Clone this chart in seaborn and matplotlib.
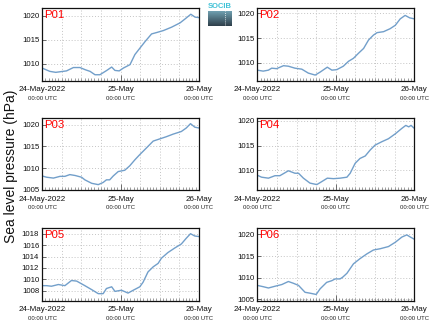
import numpy as np
import pandas as pd
import matplotlib
matplotlib.use("Agg")
import matplotlib.pyplot as plt
import matplotlib.dates as mdates
import seaborn as sns

# ---------------- data (hours since 24-May-2022 00:00 UTC, hPa) ----------------
p01_hours = [0, 2.4, 4.2, 7.5, 9.6, 11.6, 13.2, 14.7, 16.2, 17.7, 19.8, 21.3, 22.3, 23.6, 24.9,
             26.9, 28.4, 30, 31.5, 33.5, 35.1, 37.1, 39.6, 42.2, 43.7, 45.5, 46.8, 48]
p01_hpa = [1009.1, 1008.4, 1008.2, 1008.5, 1009.2, 1009.2, 1008.75, 1008.4, 1007.7, 1007.7, 1008.6,
           1009.3, 1008.6, 1008.5, 1009.1, 1009.8, 1011.9, 1013.3, 1014.6, 1016.2, 1016.5, 1016.9,
           1017.6, 1018.5, 1019.3, 1020.3, 1019.7, 1019.6]

p02_hours = [0, 1.8, 3.4, 4.4, 5.9, 8, 9.5, 11.5, 13.6, 15.6, 17.7, 19.2, 21.4, 22.8, 24.3, 26.3,
             27.9, 29.4, 30.9, 32.5, 34, 35.5, 36.6, 38.6, 40.6, 42.2, 43.7, 45.2, 46.6, 48]
p02_hpa = [1008.5, 1008.3, 1008.5, 1008.9, 1008.8, 1009.4, 1009.3, 1008.9, 1008.7, 1007.9, 1007.5,
           1008.1, 1009.1, 1008.5, 1008.6, 1009.3, 1010.3, 1010.9, 1011.9, 1012.9, 1014.6, 1015.6,
           1016.1, 1016.3, 1016.9, 1017.6, 1018.9, 1019.6, 1019.1, 1018.9]

p03_hours = [0, 1.4, 3.5, 5.5, 7, 8.5, 10.1, 12.1, 13.1, 15.2, 17.2, 18.7, 19.7, 20.7, 21.8, 23.3,
             25.3, 26.8, 28.4, 29.9, 31.9, 34, 36, 38, 40.1, 42.6, 44.1, 45.4, 46.7, 48]
p03_hpa = [1008.2, 1007.9, 1007.7, 1008.1, 1008.1, 1008.5, 1008.3, 1007.9, 1007.3, 1006.5, 1006.2,
           1006.7, 1007.3, 1007.3, 1008.2, 1009.2, 1009.5, 1010.5, 1011.9, 1013.1, 1014.6, 1016.2,
           1016.7, 1017.2, 1017.8, 1018.4, 1019.2, 1020.2, 1019.4, 1019.2]

p04_hours = [0, 1.3, 3.4, 5.4, 6.9, 9.5, 11.5, 12.6, 14.1, 16.1, 18.2, 19.7, 21.4, 23.3, 25.3, 27.4,
             28.4, 29.9, 31.4, 33, 34.5, 36, 38.1, 40.1, 42.2, 44.2, 45.4, 46.3, 47, 48]
p04_hpa = [1009.0, 1008.6, 1008.4, 1008.9, 1008.9, 1009.9, 1009.4, 1009.4, 1008.4, 1007.4, 1007.1,
           1007.7, 1008.4, 1008.3, 1008.4, 1008.6, 1009.4, 1011.4, 1012.4, 1012.9, 1014.1, 1015.1,
           1015.8, 1016.4, 1017.4, 1018.5, 1019.1, 1018.8, 1019.1, 1018.5]

p05_hours = [0, 1.4, 2.9, 5, 7, 9, 10.6, 13.1, 15.2, 17.2, 18.7, 19.7, 21.3, 22.3, 24.3, 26.3, 27.9,
             29.9, 30.9, 32.4, 34, 35.5, 36.5, 38.5, 40.6, 42.6, 44.1, 45.4, 46.7, 48]
p05_hpa = [1008.9, 1008.9, 1008.8, 1009.1, 1008.9, 1009.8, 1009.7, 1008.9, 1008.2, 1007.5, 1007.5,
           1008.4, 1008.7, 1007.9, 1008.1, 1007.6, 1008.1, 1008.7, 1009.5, 1011.3, 1012.2, 1012.8,
           1013.7, 1014.7, 1015.5, 1016.2, 1017.2, 1018.0, 1017.6, 1017.5]

p06_hours = [0, 1.8, 3.4, 5.4, 7.5, 9.5, 11, 12.6, 14.6, 16.1, 18, 19.2, 21.2, 22.8, 23.8, 25.3, 26.1,
             27.4, 29.4, 31.4, 33.5, 35.5, 37.6, 40.1, 42.2, 44.2, 45.7, 46.8, 48]
p06_hpa = [1008.2, 1007.9, 1007.6, 1008.0, 1008.4, 1009.1, 1008.7, 1008.2, 1006.6, 1006.4, 1006.1,
           1007.4, 1008.9, 1009.3, 1009.7, 1009.7, 1010.1, 1011.0, 1013.2, 1014.4, 1015.5, 1016.4,
           1016.7, 1017.2, 1018.2, 1019.4, 1019.9, 1019.4, 1018.9]

station_names = ["P01", "P02", "P03", "P04", "P05", "P06"]
station_hours = [p01_hours, p02_hours, p03_hours, p04_hours, p05_hours, p06_hours]
station_hpa = [p01_hpa, p02_hpa, p03_hpa, p04_hpa, p05_hpa, p06_hpa]
y_limits = [(1006.5, 1021.6), (1006.4, 1021.1), (1004.85, 1021.5),
            (1005.9, 1020.6), (1006.3, 1019.0), (1004.7, 1021.5)]
y_ticks = [[1010, 1015, 1020], [1010, 1015, 1020], [1005, 1010, 1015, 1020],
           [1010, 1015, 1020], [1008, 1010, 1012, 1014, 1016, 1018], [1005, 1010, 1015, 1020]]
x_tick_labels = ["24-May-2022", "25-May", "26-May"]
x_tick_sub = "00:00 UTC"
y_label = "Sea level pressure (hPa)"
start_time = pd.Timestamp("2022-05-24 00:00")

# ---------------- figure ----------------
sns.set_theme(style="ticks")
plt.rcParams["font.family"] = ["Liberation Sans", "DejaVu Sans"]

W, H = 434, 327
fig = plt.figure(figsize=(W / 100, H / 100), dpi=100)

col_left = [42, 257.3]
col_width = 157
row_top = [8, 118, 228]
row_height = 72.5

line_color = "#729fca"
tick_pos = [start_time + pd.Timedelta(hours=h) for h in (0, 24, 48)]

for i, name in enumerate(station_names):
    r, c = divmod(i, 2)
    ax = fig.add_axes([col_left[c] / W, 1 - (row_top[r] + row_height) / H,
                       col_width / W, row_height / H])
    df = pd.DataFrame({
        "time": [start_time + pd.Timedelta(hours=h) for h in station_hours[i]],
        "hpa": station_hpa[i],
    })
    sns.lineplot(data=df, x="time", y="hpa", ax=ax, color=line_color, linewidth=1.0)
    ax.set_xlim(tick_pos[0], tick_pos[-1])
    ax.set_ylim(*y_limits[i])
    ax.set_xlabel("")
    ax.set_ylabel("")

    ax.set_xticks(tick_pos)
    ax.set_xticklabels(x_tick_labels, fontsize=5.8, color="#222222")
    ax.xaxis.set_minor_locator(mdates.HourLocator(interval=1))
    ax.set_yticks(y_ticks[i])
    ax.set_yticklabels([str(v) for v in y_ticks[i]], fontsize=5.6, color="#222222")

    ax.tick_params(axis="x", which="major", direction="in", length=4, width=0.6,
                   pad=4, colors="#555555", labelcolor="#111111")
    ax.tick_params(axis="x", which="minor", direction="in", length=2.2, width=0.5,
                   colors="#777777")
    ax.tick_params(axis="y", which="major", direction="in", length=3, width=0.6,
                   pad=2, colors="#555555", labelcolor="#111111")

    # dotted grid: every 6 hours and at y ticks
    for h in range(6, 48, 6):
        ax.axvline(start_time + pd.Timedelta(hours=h), color="#c4c4c4",
                   linestyle=(0, (1, 2)), linewidth=0.7, zorder=0)
    for v in y_ticks[i]:
        ax.axhline(v, color="#c4c4c4", linestyle=(0, (1, 2)), linewidth=0.7, zorder=0)

    for s in ax.spines.values():
        s.set_color("#111111")
        s.set_linewidth(0.9)

    for tp in tick_pos:
        ax.annotate(x_tick_sub, xy=(tp, 0), xycoords=("data", "axes fraction"),
                    xytext=(0, -12.6), textcoords="offset points",
                    ha="center", va="center", fontsize=4.3, color="#222222")

    ax.text(0.012, 0.97, name, transform=ax.transAxes, ha="left", va="top",
            fontsize=8.2, color="red")

fig.text(0.026, 0.492, y_label, rotation=90, ha="center", va="center",
         fontsize=10, color="#111111")

# small logo at top centre
logo_ax = fig.add_axes([208 / W, 1 - 26 / H, 24 / W, 15 / H])
grad = np.linspace(0, 1, 50).reshape(-1, 1)
logo_ax.imshow(grad, aspect="auto", extent=(0, 1, 1, 0),
               cmap=sns.blend_palette(["#6f9fb0", "#2f3f4a"], as_cmap=True))
logo_ax.axvline(0.72, color="white", linestyle=(0, (1, 1.5)), linewidth=0.6)
logo_ax.set_xlim(0, 1)
logo_ax.set_ylim(1, 0)
logo_ax.set_axis_off()
fig.text(220 / W, 1 - 6.5 / H, "SOCIB", ha="center", va="center", fontsize=5.5,
         color="#3fc1d6", fontweight="bold")

fig.savefig("out.png", dpi=100)
